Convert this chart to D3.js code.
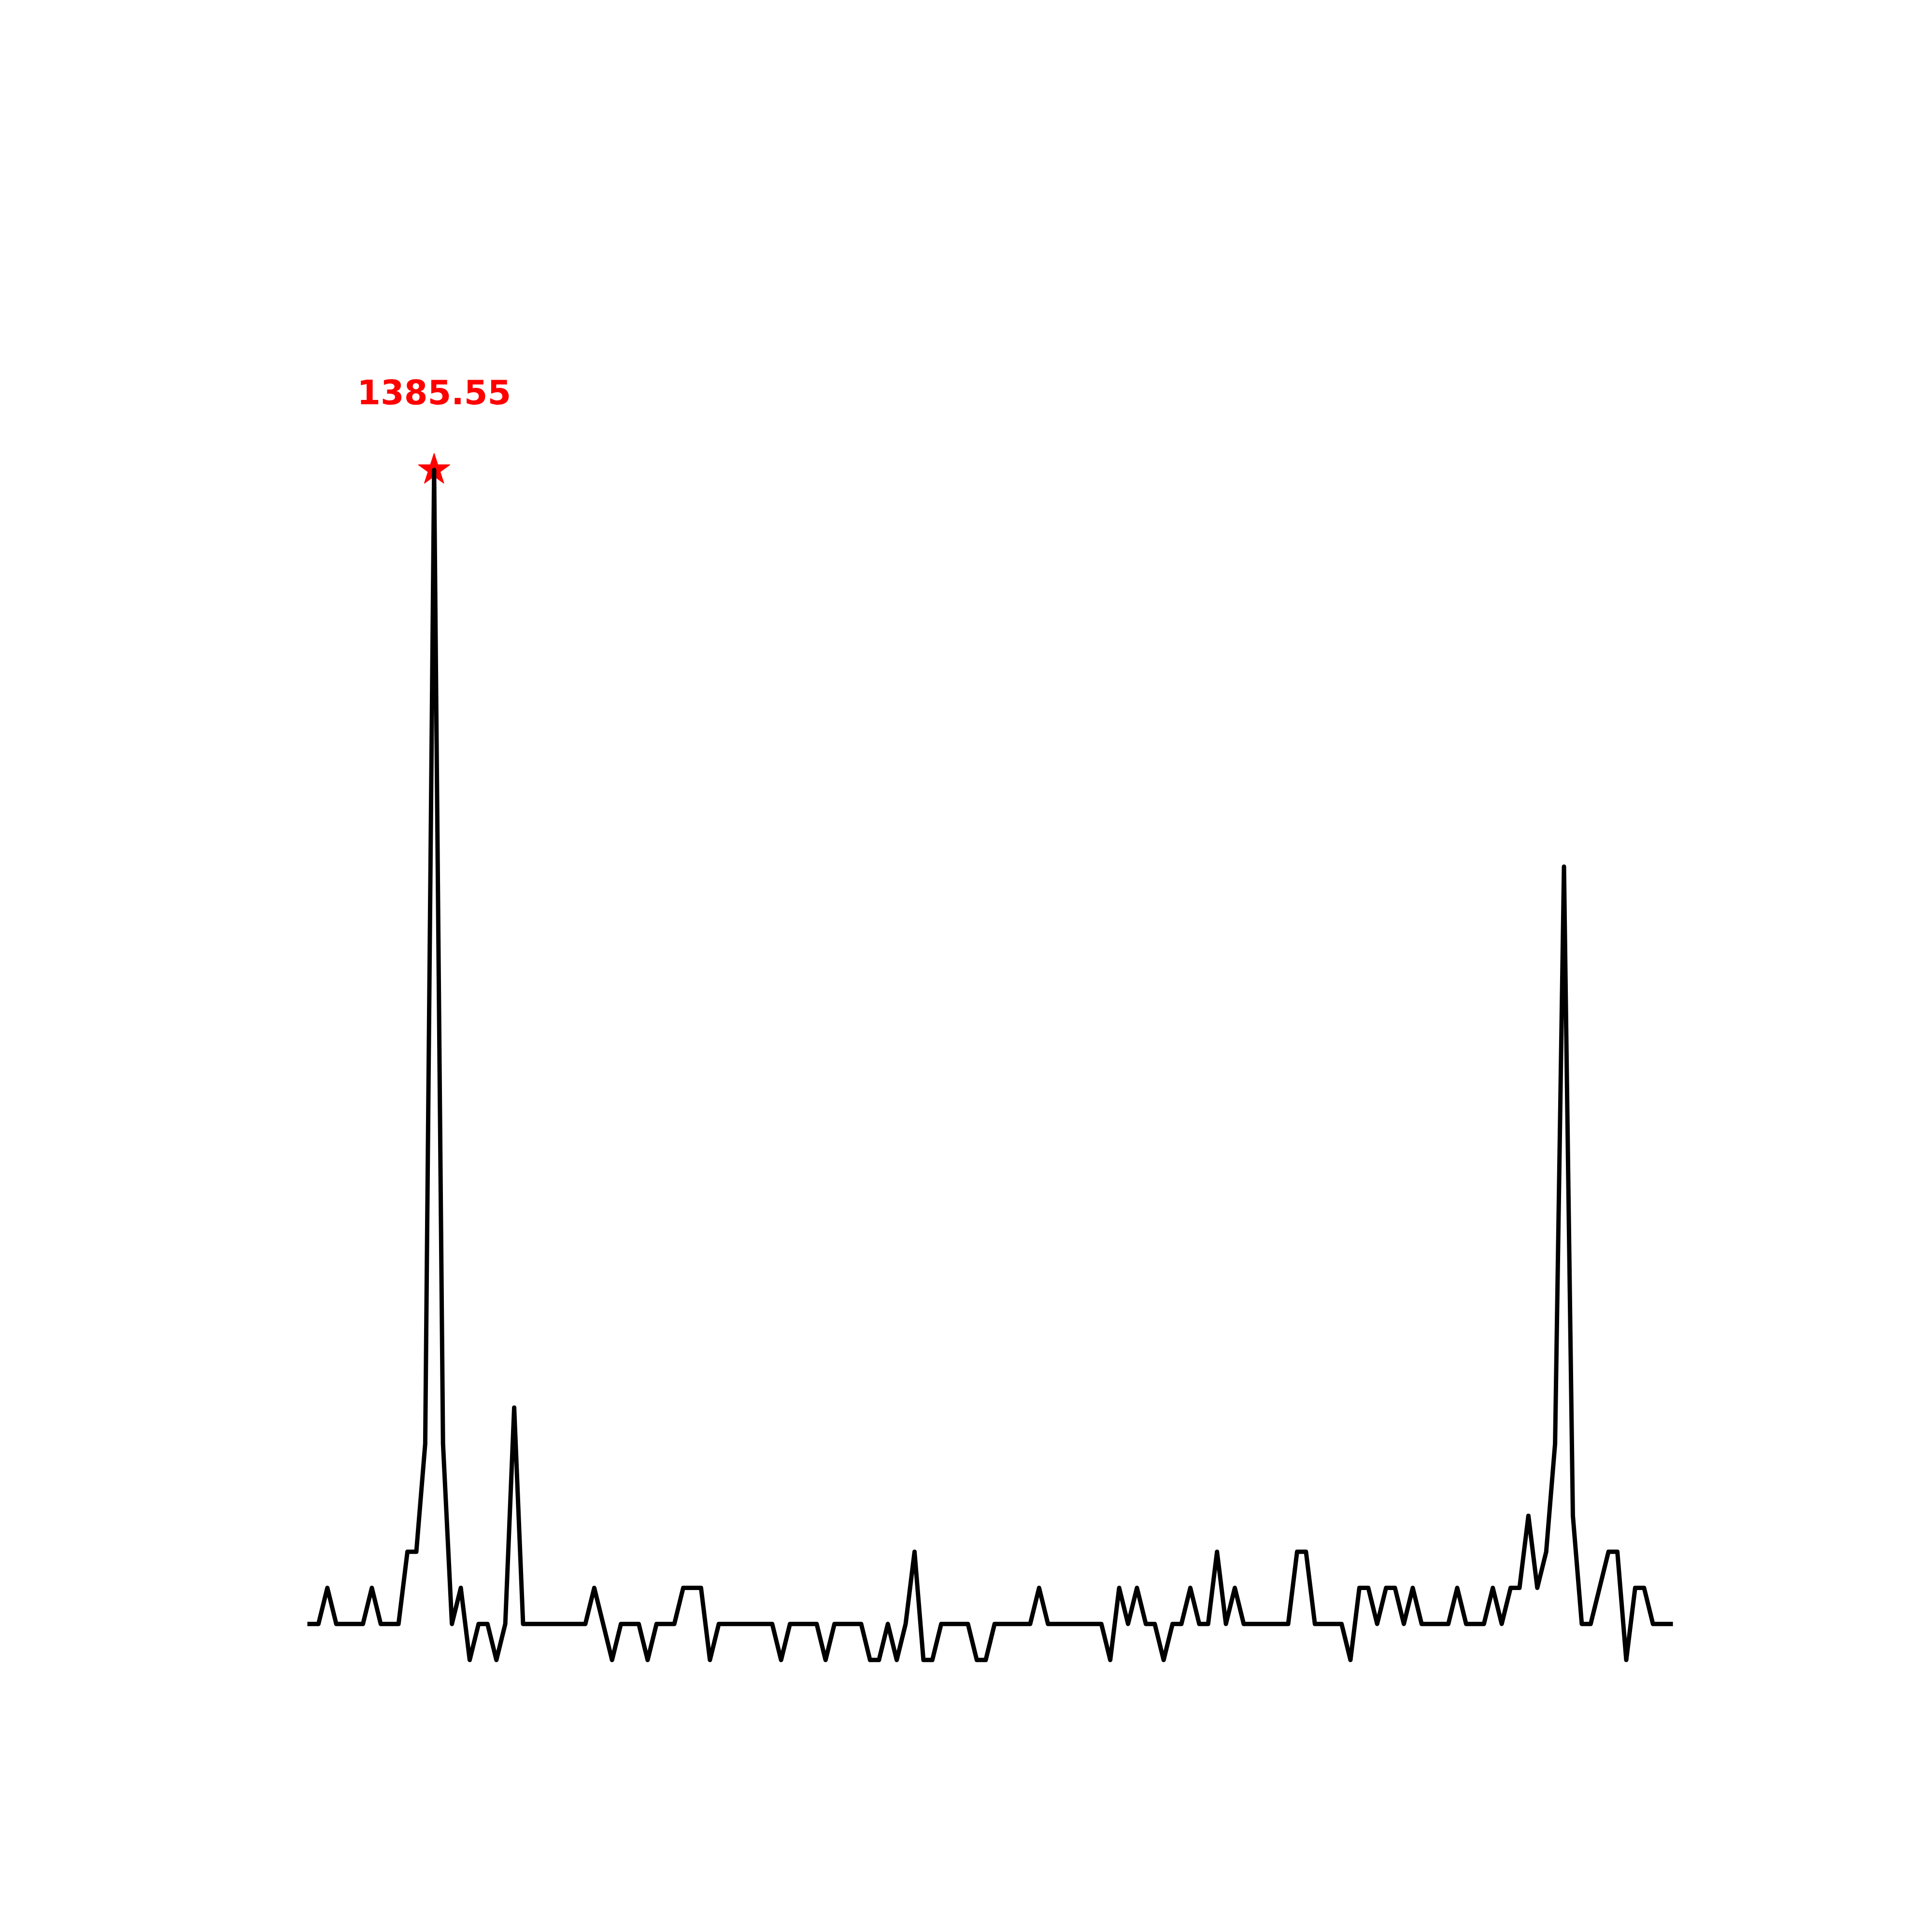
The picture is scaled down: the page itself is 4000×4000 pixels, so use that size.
<!DOCTYPE html>
<html>
<head>
<meta charset="utf-8">
<script src="https://cdn.jsdelivr.net/npm/d3@7"></script>
<style>
  html, body { margin: 0; padding: 0; background: #ffffff; }
  svg { display: block; }
</style>
</head>
<body>
<div id="chart"></div>
<script>
// ---- data ----
const values = [
  1383.95, 1383.95, 1384.00, 1383.95, 1383.95, 1383.95, 1383.95, 1384.00, 1383.95, 1383.95,
  1383.95, 1384.05, 1384.05, 1384.20, 1385.55, 1384.20, 1383.95, 1384.00, 1383.90, 1383.95,
  1383.95, 1383.90, 1383.95, 1384.25, 1383.95, 1383.95, 1383.95, 1383.95, 1383.95, 1383.95,
  1383.95, 1383.95, 1384.00, 1383.95, 1383.90, 1383.95, 1383.95, 1383.95, 1383.90, 1383.95,
  1383.95, 1383.95, 1384.00, 1384.00, 1384.00, 1383.90, 1383.95, 1383.95, 1383.95, 1383.95,
  1383.95, 1383.95, 1383.95, 1383.90, 1383.95, 1383.95, 1383.95, 1383.95, 1383.90, 1383.95,
  1383.95, 1383.95, 1383.95, 1383.90, 1383.90, 1383.95, 1383.90, 1383.95, 1384.05, 1383.90,
  1383.90, 1383.95, 1383.95, 1383.95, 1383.95, 1383.90, 1383.90, 1383.95, 1383.95, 1383.95,
  1383.95, 1383.95, 1384.00, 1383.95, 1383.95, 1383.95, 1383.95, 1383.95, 1383.95, 1383.95,
  1383.90, 1384.00, 1383.95, 1384.00, 1383.95, 1383.95, 1383.90, 1383.95, 1383.95, 1384.00,
  1383.95, 1383.95, 1384.05, 1383.95, 1384.00, 1383.95, 1383.95, 1383.95, 1383.95, 1383.95,
  1383.95, 1384.05, 1384.05, 1383.95, 1383.95, 1383.95, 1383.95, 1383.90, 1384.00, 1384.00,
  1383.95, 1384.00, 1384.00, 1383.95, 1384.00, 1383.95, 1383.95, 1383.95, 1383.95, 1384.00,
  1383.95, 1383.95, 1383.95, 1384.00, 1383.95, 1384.00, 1384.00, 1384.10, 1384.00, 1384.05,
  1384.20, 1385.00, 1384.10, 1383.95, 1383.95, 1384.00, 1384.05, 1384.05, 1383.90, 1384.00,
  1384.00, 1383.95, 1383.95, 1383.95
];
const indices = values.map((_, i) => i);

// ---- layout ----
const W = 4000, H = 4000;
const plotLeft = 500, plotRight = 3600, plotTop = 480, plotBottom = 3560;

const svg = d3.select("#chart").append("svg")
  .attr("width", W).attr("height", H)
  .attr("viewBox", `0 0 ${W} ${H}`);
svg.append("rect").attr("width", W).attr("height", H).attr("fill", "#ffffff");

const n = values.length - 1;
const x = d3.scaleLinear()
  .domain([-0.05 * n, n * 1.05])
  .range([plotLeft, plotRight]);

const yMin = d3.min(values), yMax = d3.max(values);
const span = yMax - yMin;
const y = d3.scaleLinear()
  .domain([yMin - 0.05 * span, yMax + 0.2 * span])
  .range([plotBottom, plotTop]);

// peak marker (drawn under the line)
const peakIdx = d3.maxIndex(values);
const peakVal = values[peakIdx];
const starR = 34;
const ka = 0.89081309152928522810;
svg.append("path")
  .attr("d", d3.symbol(d3.symbolStar, starR * starR / ka)())
  .attr("transform", `translate(${x(peakIdx)},${y(peakVal)})`)
  .attr("fill", "#ff0000")
  .attr("stroke", "#ff0000")
  .attr("stroke-width", 1.5)
  .attr("stroke-linejoin", "round");

// line
const line = d3.line()
  .x(i => x(i))
  .y(i => y(values[i]));

svg.append("path")
  .datum(indices)
  .attr("d", line)
  .attr("fill", "none")
  .attr("stroke", "#000000")
  .attr("stroke-width", 9)
  .attr("stroke-linejoin", "round")
  .attr("stroke-linecap", "square");

// peak label
svg.append("text")
  .attr("x", x(peakIdx))
  .attr("y", y(peakVal) - 136)
  .attr("text-anchor", "middle")
  .attr("font-family", "'DejaVu Sans', sans-serif")
  .attr("font-weight", "bold")
  .attr("font-size", 70)
  .attr("fill", "#ff0000")
  .text(peakVal.toFixed(2));
</script>
</body>
</html>
